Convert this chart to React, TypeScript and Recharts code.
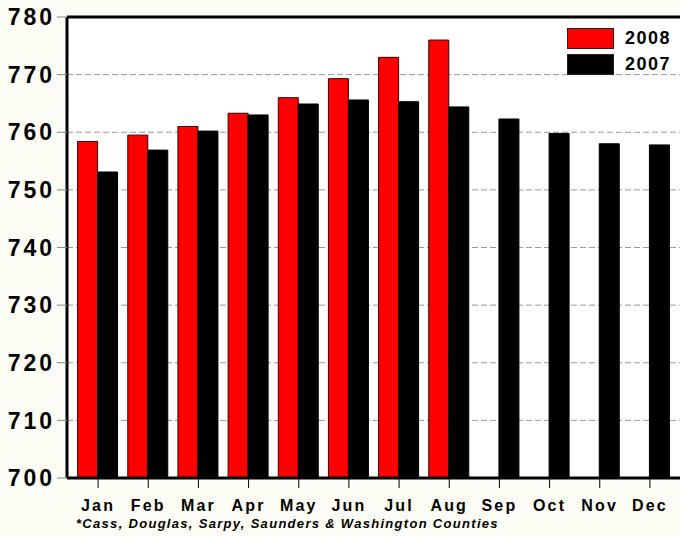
import {
  Bar,
  BarChart,
  CartesianGrid,
  ReferenceLine,
  XAxis,
  YAxis,
} from 'recharts'

const months = ['Jan', 'Feb', 'Mar', 'Apr', 'May', 'Jun', 'Jul', 'Aug', 'Sep', 'Oct', 'Nov', 'Dec']
const values2008 = [758.4, 759.5, 761.0, 763.3, 766.0, 769.3, 773.0, 776.0, null, null, null, null]
const values2007 = [753.1, 756.9, 760.2, 763.0, 764.9, 765.6, 765.3, 764.4, 762.3, 759.8, 758.0, 757.8]
const yTicks = [700, 710, 720, 730, 740, 750, 760, 770, 780]
const footnote = '*Cass, Douglas, Sarpy, Saunders & Washington Counties'

const series = [
  { key: 'y2008', name: '2008', color: '#ff0000', stroke: '#3a0000' },
  { key: 'y2007', name: '2007', color: '#000000', stroke: '#000000' },
]

const FONT = '"Liberation Sans", Arial, sans-serif'

const data = months.map((month, i) => ({
  month,
  y2008: values2008[i],
  y2007: values2007[i],
}))

// Legend sits inside the plot, so it is drawn as an overlay rather than
// through <Legend>, which would shrink the plot area.
function LegendBox() {
  return (
    <div
      style={{
        position: 'absolute',
        top: 28,
        left: 567,
        display: 'flex',
        flexDirection: 'column',
        gap: 5,
      }}
    >
      {series.map((s) => (
        <div key={s.key} style={{ display: 'flex', alignItems: 'center', height: 21 }}>
          <span
            style={{
              width: 47,
              height: 21,
              background: s.color,
              border: '1px solid #222',
              boxSizing: 'border-box',
              display: 'inline-block',
            }}
          />
          <span
            style={{
              marginLeft: 11,
              fontFamily: FONT,
              fontWeight: 700,
              fontSize: 18,
              letterSpacing: 1.5,
              color: '#000',
              lineHeight: '21px',
            }}
          >
            {s.name}
          </span>
        </div>
      ))}
    </div>
  )
}

export default function App() {
  return (
    <div
      style={{
        position: 'relative',
        width: 680,
        height: 536,
        overflow: 'hidden',
        background: '#fdfdf5',
      }}
    >
      <style>{'body { margin: 0; }'}</style>
      <BarChart
        width={690}
        height={536}
        data={data}
        margin={{ top: 17, right: 9, bottom: 18, left: 0 }}
        barCategoryGap={4.6}
        barGap={0}
      >
        <CartesianGrid
          vertical={false}
          stroke="#9a9a9a"
          strokeDasharray="6 3"
          fill="#ffffff"
        />
        <XAxis
          dataKey="month"
          padding={{ left: 6, right: 6 }}
          axisLine={{ stroke: '#000', strokeWidth: 3 }}
          tickLine={{ stroke: '#000', strokeWidth: 1 }}
          tickSize={10}
          tickMargin={12}
          height={40}
          interval={0}
          tick={{
            fill: '#000',
            fontSize: 16,
            fontWeight: 700,
            fontFamily: FONT,
            letterSpacing: 2.2,
          }}
        />
        <YAxis
          domain={[700, 780]}
          ticks={yTicks}
          width={67}
          allowDataOverflow
          axisLine={{ stroke: '#000', strokeWidth: 3 }}
          tickLine={{ stroke: '#888', strokeWidth: 1 }}
          tickSize={10}
          tickMargin={2}
          tick={{
            fill: '#000',
            fontSize: 23,
            fontWeight: 700,
            fontFamily: FONT,
            letterSpacing: 3,
          }}
        />
        <ReferenceLine y={780} stroke="#000" strokeWidth={3} />
        {series.map((s) => (
          <Bar
            key={s.key}
            dataKey={s.key}
            name={s.name}
            fill={s.color}
            stroke={s.stroke}
            strokeWidth={1}
            isAnimationActive={false}
          />
        ))}
      </BarChart>
      <LegendBox />
      <div
        style={{
          position: 'absolute',
          left: 76,
          top: 516,
          fontFamily: FONT,
          fontStyle: 'italic',
          fontWeight: 700,
          fontSize: 13,
          letterSpacing: 1.3,
          color: '#000',
          whiteSpace: 'nowrap',
        }}
      >
        {footnote}
      </div>
    </div>
  )
}
